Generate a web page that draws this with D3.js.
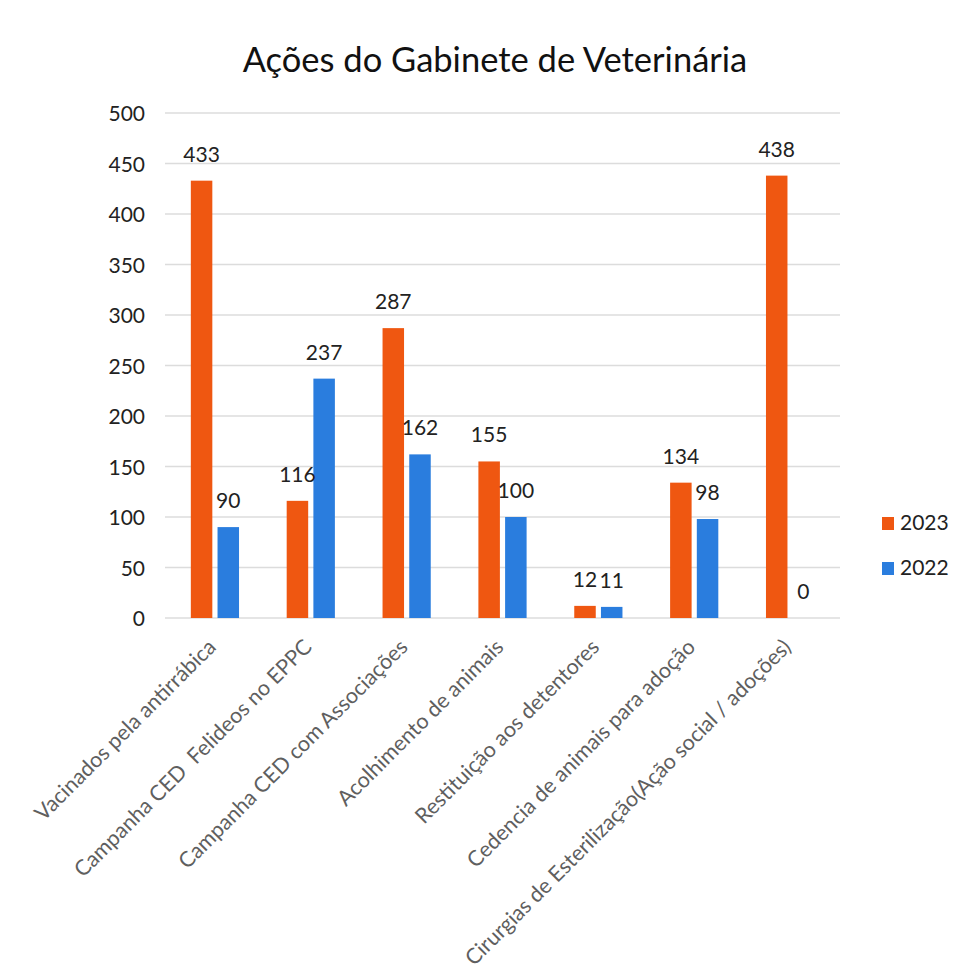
<!DOCTYPE html>
<html><head><meta charset="utf-8">
<script src="https://cdn.jsdelivr.net/npm/d3@7"></script>
<style>body{margin:0;background:#fff}</style>
</head><body>
<svg id="chart" width="966" height="978"></svg>
<script>
const categories = [
  "Vacinados pela antirrábica",
  "Campanha CED  Felideos no EPPC",
  "Campanha CED com Associações",
  "Acolhimento de animais",
  "Restituição aos detentores",
  "Cedencia de animais para adoção",
  "Cirurgias de Esterilização(Ação social / adoções)"
];
const series = ["2023", "2022"];
const values2023 = [433, 116, 287, 155, 12, 134, 438];
const values2022 = [90, 237, 162, 100, 11, 98, 0];
const yTicks = [0, 50, 100, 150, 200, 250, 300, 350, 400, 450, 500];
const title = "Ações do Gabinete de Veterinária";
const colors = {"2023": "#EF5711", "2022": "#2A7DDE"};

const svg = d3.select("#chart");
const font = "Lato, 'Open Sans', sans-serif";

const x0 = d3.scaleBand().domain(categories).range([167, 838]);
const bw = x0.bandwidth();
const x1 = d3.scaleBand().domain(series).range([bw/2 - 24.1, bw/2 + 24.1]).paddingInner(0.195);
const y = d3.scaleLinear().domain([0, 500]).range([618, 113]);

// grid
svg.append("g").selectAll("line").data(yTicks).join("line")
  .attr("x1", 165).attr("x2", 840)
  .attr("y1", d => y(d)).attr("y2", d => y(d))
  .attr("stroke", "#dcdcdc").attr("stroke-width", 1.3);

// y axis labels
const yAxis = d3.axisLeft(y).tickValues(yTicks).tickSize(0).tickPadding(0);
const ya = svg.append("g").attr("transform", "translate(145,0)").call(yAxis);
ya.select(".domain").remove();
ya.selectAll("text").attr("font-family", font).attr("font-size", 21).attr("fill", "#222").attr("dy", "0.36em");

// title
svg.append("text").attr("x", 495).attr("y", 72).attr("text-anchor", "middle")
  .attr("font-family", font).attr("font-size", 34.5).attr("fill", "#111").text(title);

const data = categories.map((c, i) => ({cat: c, vals: [{s: "2023", v: values2023[i]}, {s: "2022", v: values2022[i]}]}));

const groups = svg.append("g").selectAll("g").data(data).join("g")
  .attr("transform", d => `translate(${x0(d.cat)},0)`);

groups.selectAll("rect").data(d => d.vals).join("rect")
  .attr("x", d => x1(d.s)).attr("width", x1.bandwidth())
  .attr("y", d => y(d.v)).attr("height", d => y(0) - y(d.v))
  .attr("fill", d => colors[d.s]);

groups.selectAll("text.val").data(d => d.vals).join("text").attr("class", "val")
  .attr("x", d => x1(d.s) + x1.bandwidth()/2).attr("y", d => y(d.v) - 19)
  .attr("text-anchor", "middle").attr("font-family", font).attr("font-size", 21)
  .attr("fill", "#222").text(d => d.v);

// x labels
svg.append("g").selectAll("text").data(categories).join("text")
  .attr("transform", d => `translate(${x0(d) + bw/2 - 3},643) rotate(-45)`)
  .attr("dy", "0.35em").attr("text-anchor", "end")
  .attr("font-family", font).attr("font-size", 21.5).attr("fill", "#5f5f5f")
  .attr("xml:space", "preserve").style("white-space", "pre")
  .text(d => d);

// legend
const lg = svg.append("g").selectAll("g").data(series).join("g")
  .attr("transform", (d, i) => `translate(882,${517 + i*45})`);
lg.append("rect").attr("width", 12).attr("height", 13).attr("fill", d => colors[d]);
lg.append("text").attr("x", 18).attr("y", 13).attr("font-family", font).attr("font-size", 21)
  .attr("fill", "#222").text(d => d);
</script>
</body></html>
